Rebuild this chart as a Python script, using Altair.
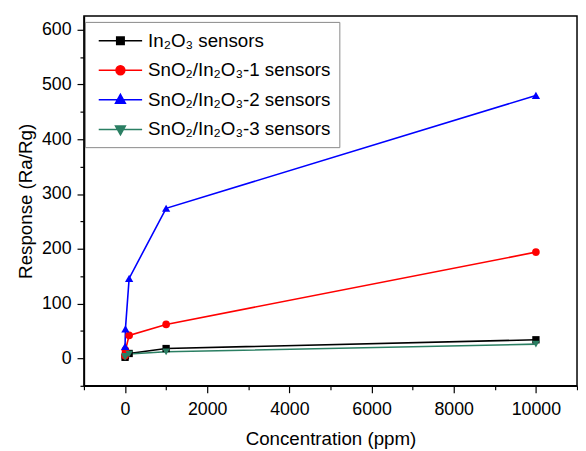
import altair as alt
import pandas as pd

concentration = [1, 10, 100, 1000, 10000]
series_names = ["In₂O₃ sensors", "SnO₂/In₂O₃-1 sensors", "SnO₂/In₂O₃-2 sensors", "SnO₂/In₂O₃-3 sensors"]
in2o3 = [2, 5, 9, 18, 34]
sno2_1 = [5, 15, 42, 62, 194]
sno2_2 = [22, 54, 146, 274, 480]
sno2_3 = [2, 4, 8, 12, 26]
colors = ["#000000", "#ff0000", "#0000ff", "#2b7f63"]
shapes = ["square", "circle", "triangle-up", "triangle-down"]
marker_sizes = [55, 60, 70, 60]

rows = []
for name, vals in zip(series_names, [in2o3, sno2_1, sno2_2, sno2_3]):
    for c, v in zip(concentration, vals):
        rows.append({"series": name, "conc": c, "resp": v})
df = pd.DataFrame(rows)

font = "Liberation Sans"

leg_paths = [
    "M-2.2,0H2.2M-0.38,-0.38H0.38V0.38H-0.38Z",
    "M-2.2,0H2.2M0.45,0A0.45,0.45,0,1,1,-0.45,0A0.45,0.45,0,1,1,0.45,0Z",
    "M-2.2,0H2.2M0,-0.55L0.5,0.35H-0.5Z",
    "M-2.2,0H2.2M0,0.55L0.5,-0.35H-0.5Z",
]
shape_sig = " : ".join(f"datum.index === {i} ? '{p}'" for i, p in enumerate(leg_paths[:-1])) + f" : '{leg_paths[-1]}'"

xscale = alt.Scale(domain=[-1000, 11000], nice=False, zero=False)
yscale = alt.Scale(domain=[-50, 625], nice=False, zero=False)

xaxis = alt.Axis(
    title="Concentration (ppm)",
    values=list(range(0, 10001, 2000)),
    format="d",
    tickSize=7,
    grid=False,
    labelPadding=8,
    titlePadding=12,
)
yaxis = alt.Axis(
    title="Response (Ra/Rg)",
    values=list(range(0, 601, 100)),
    tickSize=7,
    grid=False,
    labelPadding=6,
    titlePadding=6,
)
xminor = alt.Axis(
    title=None, orient="bottom", values=list(range(-1000, 11001, 2000)),
    tickSize=4, labels=False, domain=False, grid=False,
)
yminor = alt.Axis(
    title=None, orient="left", values=list(range(-50, 601, 100)),
    tickSize=4, labels=False, domain=False, grid=False,
)

color = alt.Color(
    "series:N",
    scale=alt.Scale(domain=series_names, range=colors),
    legend=alt.Legend(
        title=None,
        orient="none",
        legendX=1,
        legendY=6,
        symbolSize=400,
        symbolStrokeWidth=1.5,
        symbolType=alt.ExprRef(shape_sig),
        symbolFillColor=alt.ExprRef("scale('color', datum.value)"),
        symbolStrokeColor=alt.ExprRef("scale('color', datum.value)"),
        symbolOpacity=1,
        symbolOffset=17,
        labelFontSize=19,
        labelFont=font,
        labelColor="#000",
        labelLimit=400,
        rowPadding=9,
        padding=8,
        labelOffset=17,
        strokeColor="#888",
        fillColor="#ffffff",
    ),
)

base = alt.Chart(df)
lines = base.mark_line(strokeWidth=1.6).encode(
    x=alt.X("conc:Q", scale=xscale, axis=xaxis),
    y=alt.Y("resp:Q", scale=yscale, axis=yaxis),
    color=color,
    order="conc:Q",
)
point_layers = []
for name, col, shp, sz in zip(series_names, colors, shapes, marker_sizes):
    point_layers.append(
        base.transform_filter(alt.datum.series == name)
        .mark_point(filled=True, opacity=1, size=sz, shape=shp, color=col)
        .encode(
            x=alt.X("conc:Q", scale=xscale, axis=None),
            y=alt.Y("resp:Q", scale=yscale, axis=None),
        )
    )
minor_ticks = base.mark_point(opacity=0).encode(
    x=alt.X("conc:Q", scale=xscale, axis=xminor),
    y=alt.Y("resp:Q", scale=yscale, axis=yminor),
)

chart = alt.layer(lines, *point_layers, minor_ticks).resolve_axis(
    x="independent", y="independent"
).properties(
    width=500,
    height=375,
    autosize=alt.AutoSizeParams(type="none"),
    padding={"left": 77, "top": 5, "right": 1, "bottom": 62},
).configure_view(
    stroke="#000", strokeWidth=1.5
).configure_axis(
    domainColor="#000",
    domainWidth=1.5,
    tickColor="#000",
    tickWidth=1.2,
    labelFont=font,
    labelFontSize=18,
    labelColor="#000",
    titleFont=font,
    titleFontSize=19,
    titleFontWeight="normal",
    titleColor="#000",
)

chart.save("out.html", embed_options={"renderer": "svg", "actions": False})
